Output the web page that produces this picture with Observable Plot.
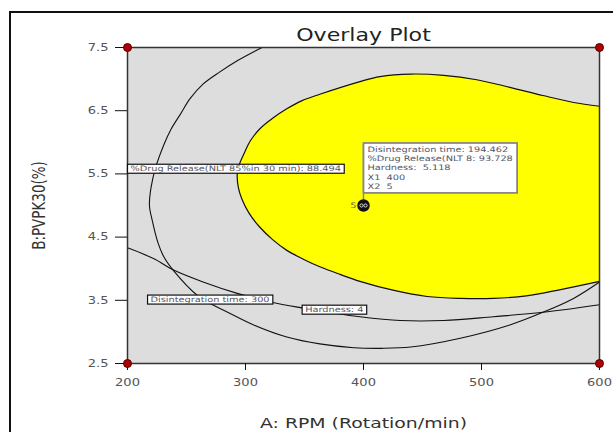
<!DOCTYPE html>
<html>
<head>
<meta charset="utf-8">
<script src="https://cdn.jsdelivr.net/npm/d3@7"></script>
<script src="https://cdn.jsdelivr.net/npm/@observablehq/plot@0.6"></script>
<style>
  html, body { margin: 0; padding: 0; background: #fff; overflow: hidden; }
  #wrap { position: relative; width: 613px; height: 432px; }
  #outer { position: absolute; left: 9px; top: 11px; width: 640px; height: 460px; border: 2px solid #111; pointer-events: none; }
  #chart svg { display: block; }
</style>
</head>
<body>
<div id="wrap"><div id="chart"></div><div id="outer"></div></div>
<script>
// Axis ticks
const xTicks = [200, 300, 400, 500, 600];
const yTicks = [2.5, 3.5, 4.5, 5.5, 6.5, 7.5];

// %Drug Release contour (boundary of the yellow design space), [A: RPM, B: PVPK30]
const drugRelease = [
  [600, 6.57], [578, 6.63], [552, 6.74], [524, 6.87], [496, 6.99], [468, 7.06], [440, 7.08],
  [414, 7.04], [397, 6.96], [363, 6.76], [348, 6.66], [335, 6.53], [323, 6.38], [312, 6.21],
  [304, 6.02], [299, 5.83], [295, 5.66], [293, 5.50], [294, 5.28], [297, 5.10], [303, 4.88],
  [312, 4.66], [323, 4.46], [335, 4.29], [349, 4.15], [363, 4.03], [380, 3.91], [397, 3.80],
  [425, 3.66], [454, 3.56], [482, 3.53], [510, 3.53], [538, 3.57], [567, 3.67], [600, 3.80]
];

// Disintegration time = 300 contour
const disintegration = [
  [314, 7.5], [293, 7.29], [278, 7.11], [264, 6.92], [253, 6.69], [245, 6.45], [237, 6.21],
  [231, 5.97], [224, 5.61], [220, 5.29], [218.6, 5.0], [221, 4.76], [226, 4.40], [231, 4.18],
  [239, 3.97], [259, 3.58], [270, 3.45], [284, 3.32], [307, 3.11], [335, 2.92], [363, 2.81],
  [392, 2.75], [415, 2.74], [440, 2.76], [482, 2.90], [524, 3.11], [552, 3.31], [578, 3.53],
  [600, 3.79]
];

// Hardness = 4 contour
const hardness = [
  [200, 4.33], [222, 4.16], [240, 3.97], [264, 3.79], [293, 3.61], [322, 3.47], [348, 3.38],
  [375, 3.30], [397, 3.24], [431, 3.18], [468, 3.18], [510, 3.24], [552, 3.31], [600, 3.43]
];

// Design points
const corners = [[200, 7.5], [600, 7.5], [200, 2.5], [600, 2.5]];
const centerPoint = [[400, 5]];
const centerCount = ["5"];

// Contour labels
const contourLabels = [
  {x: 200, y: 5.58, text: "%Drug Release(NLT 85%in 30 min): 88.494"},
  {x: 217, y: 3.51, text: "Disintegration time: 300"},
  {x: 348, y: 3.35, text: "Hardness: 4"}
];

// Flag at the selected point
const flagPoint = {x: 400, y: 5, top: 5.974};
const flagLines = [
  "Disintegration time: 194.462",
  "%Drug Release(NLT 8: 93.728",
  "Hardness:  5.118",
  "X1  400",
  "X2  5"
];

const title = "Overlay Plot";
const xLabel = "A: RPM (Rotation/min)";
const yLabel = "B:PVPK30(%)";

const fontName = "DejaVu Sans";
const stretch = 1.3; // the reference's text is drawn horizontally widened

const plot = Plot.plot({
  width: 613,
  height: 432,
  marginLeft: 127,
  marginRight: 14,
  marginTop: 47,
  marginBottom: 69,
  x: {domain: [200, 600]},
  y: {domain: [2.5, 7.5]},
  style: {fontFamily: fontName, background: "transparent", color: "#111"},
  marks: [
    Plot.frame({fill: "#dddddd", stroke: null}),
    Plot.line(drugRelease, {x: d => d[0], y: d => d[1], fill: "#ffff00", stroke: "#111", strokeWidth: 1.2, curve: "catmull-rom"}),
    Plot.line(disintegration, {x: d => d[0], y: d => d[1], stroke: "#111", strokeWidth: 1.1, curve: "catmull-rom"}),
    Plot.line(hardness, {x: d => d[0], y: d => d[1], stroke: "#111", strokeWidth: 1.1, curve: "catmull-rom"}),
    Plot.frame({stroke: "#333", strokeWidth: 1.5}),
    Plot.axisX({ticks: xTicks, tickSize: 7, tickPadding: 8, label: null, fontSize: 10, tickFormat: d => String(d)}),
    Plot.axisY({ticks: yTicks, tickSize: 12, tickPadding: 7, label: null, fontSize: 10, tickFormat: d => d.toFixed(1)}),
    Plot.dot(corners, {x: d => d[0], y: d => d[1], r: 4, fill: "#b00000", stroke: "#500", strokeWidth: 1}),
    Plot.link([flagPoint], {x1: "x", y1: "y", x2: "x", y2: "top", stroke: "#888", strokeWidth: 1.5}),
    Plot.dot(centerPoint, {x: d => d[0], y: d => d[1], r: 5.5, fill: "#111", stroke: "#111"}),
    Plot.dot(centerPoint, {x: d => d[0], y: d => d[1], r: 1.6, dx: -2, fill: "none", stroke: "#fff", strokeWidth: 0.8}),
    Plot.dot(centerPoint, {x: d => d[0], y: d => d[1], r: 1.6, dx: 2, fill: "none", stroke: "#fff", strokeWidth: 0.8}),
    Plot.text(centerPoint, {x: d => d[0], y: d => d[1], text: () => centerCount[0], dx: -7, textAnchor: "end", fontSize: 7.5, fill: "#666"}),
    Plot.text(contourLabels, {x: "x", y: "y", text: "text", textAnchor: "start", dx: 3, fontSize: 7.5, fill: "#556"}),
    Plot.text([flagPoint], {x: "x", y: "top", text: () => flagLines.join("\n"), textAnchor: "start", lineAnchor: "top", dx: 4, dy: 1.5, fontSize: 7.5, lineHeight: 1.23, fill: "#556"}),
    Plot.text([title], {frameAnchor: "top", dy: -7, lineAnchor: "bottom", fontSize: 17, fill: "#222"}),
    Plot.text([xLabel], {frameAnchor: "bottom", dy: 64, lineAnchor: "bottom", fontSize: 14.5, fill: "#333"}),
    Plot.text([yLabel], {frameAnchor: "left", textAnchor: "middle", dx: -88, rotate: -90, fontSize: 13.5, fill: "#333"})
  ]
});

document.getElementById("chart").appendChild(plot);

// gray tick labels
plot.querySelectorAll('g[aria-label="x-axis tick label"], g[aria-label="y-axis tick label"]').forEach(g => g.setAttribute("fill", "#555"));

// widen horizontal text like the reference
plot.querySelectorAll("text").forEach(t => {
  const tr = t.getAttribute("transform") || "";
  if (tr.includes("rotate")) {
    t.setAttribute("transform", tr + ` scale(1,${stretch})`);
    return;
  }
  const spans = t.querySelectorAll("tspan");
  const parts = spans.length ? [...spans] : [t];
  parts.forEach(p => {
    const w = p.getComputedTextLength();
    if (w > 0) {
      p.setAttribute("textLength", (w * stretch).toFixed(2));
      p.setAttribute("lengthAdjust", "spacingAndGlyphs");
    }
  });
});

function boxify(t, padX, padY, stroke, sw) {
  const b = t.getBBox();
  const r = document.createElementNS("http://www.w3.org/2000/svg", "rect");
  r.setAttribute("x", b.x - padX);
  r.setAttribute("y", b.y - padY);
  r.setAttribute("width", b.width + 2 * padX);
  r.setAttribute("height", b.height + 2 * padY);
  r.setAttribute("fill", "#fff");
  r.setAttribute("stroke", stroke);
  r.setAttribute("stroke-width", sw);
  const tr = t.getAttribute("transform");
  if (tr) r.setAttribute("transform", tr);
  t.parentNode.insertBefore(r, t);
}
const labelSet = new Set(contourLabels.map(d => d.text));
plot.querySelectorAll("text").forEach(t => {
  const s = t.textContent;
  if (labelSet.has(s)) boxify(t, 3, 0, "#111", 1.2);
  else if (s.startsWith(flagLines[0])) boxify(t, 4, 2, "#888", 1.8);
});
</script>
</body>
</html>
